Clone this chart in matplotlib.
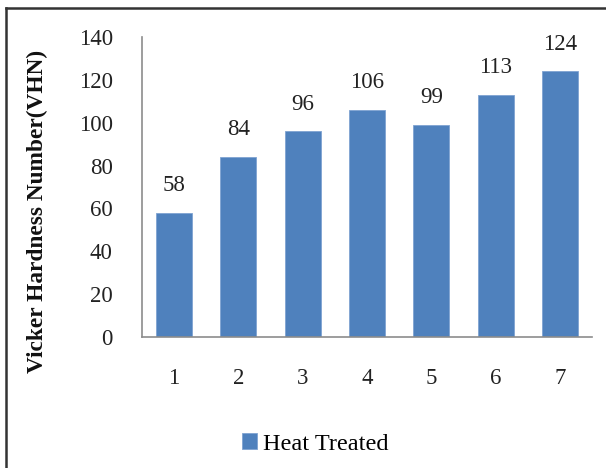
import matplotlib
matplotlib.use("Agg")
import matplotlib.pyplot as plt
from matplotlib.patches import Patch
from matplotlib.lines import Line2D

samples = ["1", "2", "3", "4", "5", "6", "7"]
hardness = [58, 84, 96, 106, 99, 113, 124]
series_name = "Heat Treated"
y_ticks = [0, 20, 40, 60, 80, 100, 120, 140]

plt.rcParams["font.family"] = ["Liberation Serif", "DejaVu Serif"]

W, H = 606, 468
fig = plt.figure(figsize=(W / 100, H / 100), dpi=100)
ax = fig.add_axes([142 / W, 1 - 337 / H, 450 / W, 300 / H])

bar_color = "#4F81BD"
x = range(len(samples))
bars = ax.bar(x, hardness, width=0.56, color=bar_color,
              edgecolor="#7FA3D2", linewidth=0.6)

for xi, v in zip(x, hardness):
    ax.annotate(f"{v}", (xi, v), xytext=(0, 12), textcoords="offset points",
                ha="center", va="bottom", fontsize=16.5, color="#222222")

ax.set_xlim(-0.5, len(samples) - 0.5)
ax.set_ylim(0, 140)
ax.set_yticks(y_ticks)
ax.set_xticks(list(x))
ax.set_xticklabels(samples)
ax.tick_params(axis="both", length=0, labelsize=16.5, colors="#222222")
ax.tick_params(axis="y", pad=21)
ax.tick_params(axis="x", pad=22)

for side in ("top", "right"):
    ax.spines[side].set_visible(False)
for side in ("left", "bottom"):
    ax.spines[side].set_color("#8C8C8C")
    ax.spines[side].set_linewidth(1.2)

ax.set_ylabel("Vicker Hardness Number(VHN)", fontsize=16.8, fontweight="bold",
              color="#111111")
ax.yaxis.set_label_coords((48 - 142) / 450, (337 - 211) / 300)

handle = Patch(facecolor=bar_color, edgecolor="#7FA3D2", linewidth=0.6)
fig.legend([handle], [series_name], loc="center", bbox_to_anchor=(315 / W, 1 - 444 / H),
           frameon=False, fontsize=17.5, handlelength=0.6, handleheight=0.6,
           handletextpad=0.25)

# frame around the figure (top and left edges)
fig.add_artist(Line2D([6 / W, 6 / W], [0, 1 - 8 / H], transform=fig.transFigure,
                      color="#333333", linewidth=1.8))
fig.add_artist(Line2D([6 / W, 1], [1 - 8 / H, 1 - 8 / H], transform=fig.transFigure,
                      color="#333333", linewidth=1.8))

fig.savefig("out.png", dpi=100)
